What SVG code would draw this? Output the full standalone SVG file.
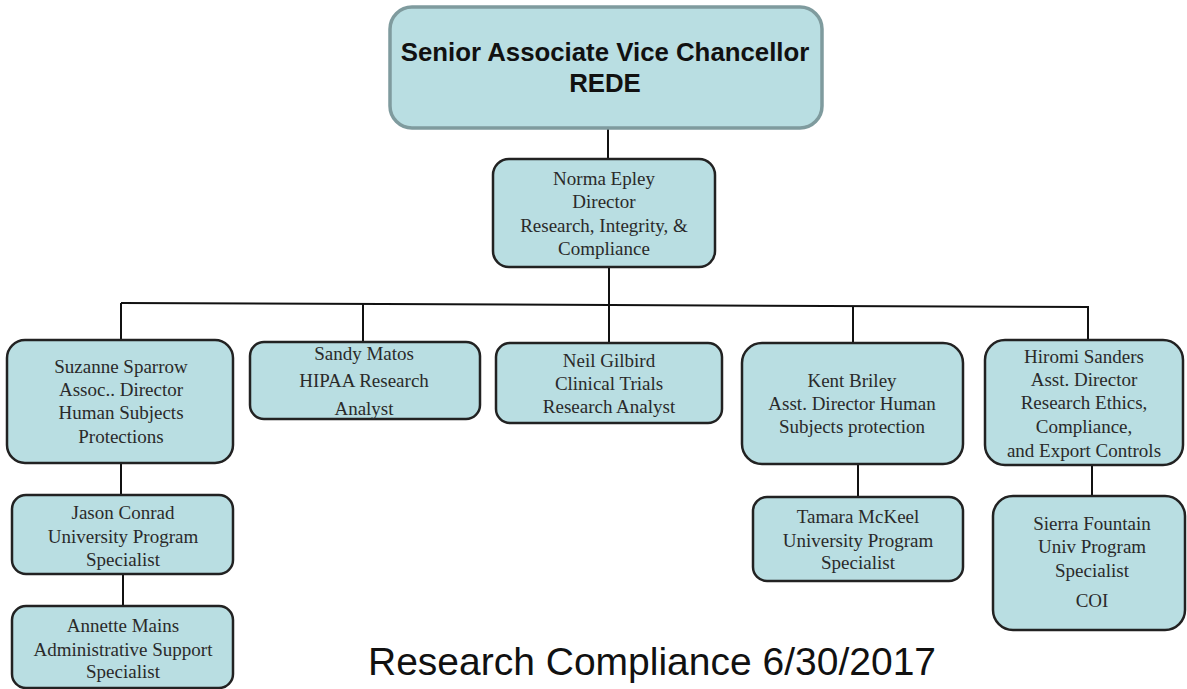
<svg xmlns="http://www.w3.org/2000/svg" width="1187" height="689" viewBox="0 0 1187 689">
<style>
.box{fill:#b9dee2;stroke:#222;stroke-width:2.5}
.top{fill:#b9dee2;stroke:#7f9b9e;stroke-width:3.5}
.t{font-family:"Liberation Serif","Times New Roman",serif;font-size:19px;fill:#2a2a2a;text-anchor:middle}
.h{font-family:"Liberation Sans",Arial,sans-serif;font-size:25.8px;font-weight:bold;fill:#111;text-anchor:middle}
.c{stroke:#111;stroke-width:2;fill:none}
</style>
<rect width="1187" height="689" fill="#fff"/>
<g id="connectors">
<line class="c" x1="608" y1="128" x2="608" y2="159"/>
<line class="c" x1="609" y1="267" x2="609" y2="343"/>
<line class="c" x1="121" y1="303" x2="1089" y2="307"/>
<line class="c" x1="121" y1="303" x2="121" y2="340"/>
<line class="c" x1="363" y1="304" x2="363" y2="342"/>
<line class="c" x1="853" y1="306" x2="853" y2="343"/>
<line class="c" x1="1088" y1="307" x2="1088" y2="340"/>
<line class="c" x1="121" y1="463" x2="121" y2="495"/>
<line class="c" x1="123" y1="574" x2="123" y2="606"/>
<line class="c" x1="858" y1="464" x2="858" y2="497"/>
<line class="c" x1="1092" y1="465" x2="1092" y2="496"/>
</g>
<g id="svc">
<rect class="top" x="390" y="7" width="432" height="121" rx="22"/>
<text class="h" x="605" y="61">Senior Associate Vice Chancellor</text>
<text class="h" x="605" y="92">REDE</text>
</g>
<g id="norma">
<rect class="box" x="493" y="159" width="222" height="108" rx="16"/>
<text class="t" x="604" y="185">Norma Epley</text>
<text class="t" x="604" y="208">Director</text>
<text class="t" x="604" y="232">Research, Integrity, &amp;</text>
<text class="t" x="604" y="255">Compliance</text>
</g>
<g id="suzanne">
<rect class="box" x="7" y="340" width="226" height="123" rx="18"/>
<text class="t" x="121" y="373">Suzanne Sparrow</text>
<text class="t" x="121" y="396">Assoc.. Director</text>
<text class="t" x="121" y="419">Human Subjects</text>
<text class="t" x="121" y="443">Protections</text>
</g>
<g id="sandy">
<rect class="box" x="250" y="342" width="230" height="77" rx="14"/>
<text class="t" x="364" y="360">Sandy Matos</text>
<text class="t" x="364" y="387">HIPAA Research</text>
<text class="t" x="364" y="415">Analyst</text>
</g>
<g id="neil">
<rect class="box" x="496" y="343" width="226" height="80" rx="14"/>
<text class="t" x="609" y="367">Neil Gilbird</text>
<text class="t" x="609" y="390">Clinical Trials</text>
<text class="t" x="609" y="413">Research Analyst</text>
</g>
<g id="kent">
<rect class="box" x="742" y="343" width="221" height="121" rx="20"/>
<text class="t" x="852" y="387">Kent Briley</text>
<text class="t" x="852" y="410">Asst. Director Human</text>
<text class="t" x="852" y="433">Subjects protection</text>
</g>
<g id="hiromi">
<rect class="box" x="985" y="340" width="198" height="125" rx="20"/>
<text class="t" x="1084" y="363">Hiromi Sanders</text>
<text class="t" x="1084" y="386">Asst. Director</text>
<text class="t" x="1084" y="409">Research Ethics,</text>
<text class="t" x="1084" y="433">Compliance,</text>
<text class="t" x="1084" y="457">and Export Controls</text>
</g>
<g id="jason">
<rect class="box" x="12" y="495" width="221" height="79" rx="14"/>
<text class="t" x="123" y="519">Jason Conrad</text>
<text class="t" x="123" y="543">University Program</text>
<text class="t" x="123" y="566">Specialist</text>
</g>
<g id="annette">
<rect class="box" x="12" y="606" width="221" height="82" rx="14"/>
<text class="t" x="123" y="632">Annette Mains</text>
<text class="t" x="123" y="656">Administrative Support</text>
<text class="t" x="123" y="678">Specialist</text>
</g>
<g id="tamara">
<rect class="box" x="753" y="497" width="210" height="84" rx="14"/>
<text class="t" x="858" y="523">Tamara McKeel</text>
<text class="t" x="858" y="547">University Program</text>
<text class="t" x="858" y="569">Specialist</text>
</g>
<g id="sierra">
<rect class="box" x="993" y="496" width="192" height="134" rx="20"/>
<text class="t" x="1092" y="530">Sierra Fountain</text>
<text class="t" x="1092" y="553">Univ Program</text>
<text class="t" x="1092" y="577">Specialist</text>
<text class="t" x="1092" y="607">COI</text>
</g>
<g id="title">
<text x="368" y="675" font-family="'Liberation Sans',Arial,sans-serif" font-size="39" fill="#111">Research Compliance 6/30/2017</text>
</g>
</svg>
